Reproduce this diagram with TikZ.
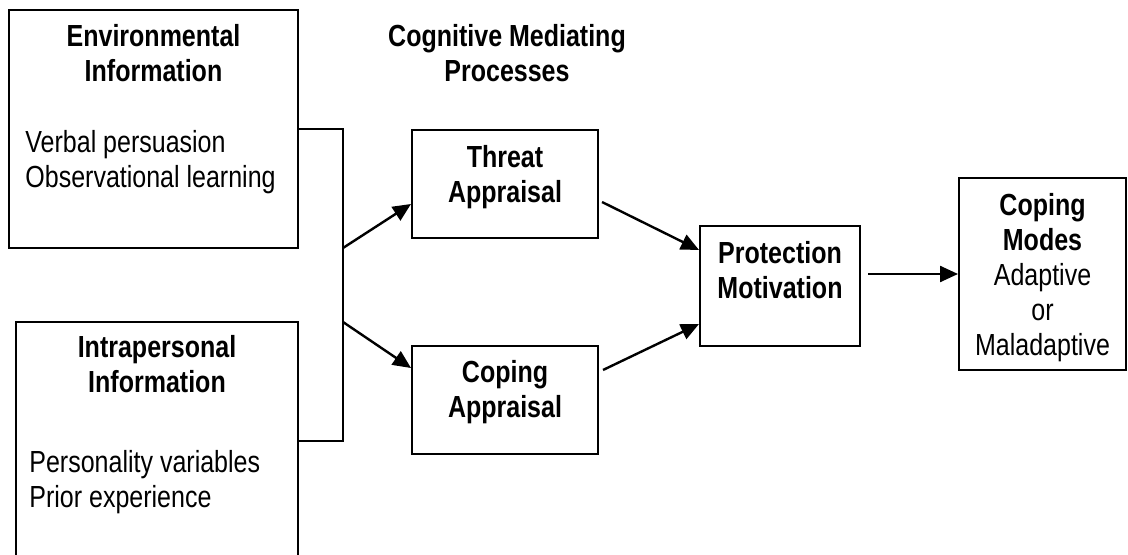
\documentclass[tikz,border=0pt]{standalone}
\usepackage{fontspec}
\setmainfont{Liberation Sans}[FakeStretch=0.82]
\usetikzlibrary{positioning,arrows.meta}
\newcommand\figsize{\fontsize{15.25pt}{17.5pt}\selectfont}
\tikzset{
  box/.style={draw,line width=1pt,inner sep=0pt},
  head/.style={font=\figsize\bfseries,align=center,inner sep=0pt},
  body/.style={font=\figsize,align=left,inner sep=0pt},
  link/.style={line width=1.2pt,-{Triangle[length=9pt,width=8pt]}}
}
\begin{document}
\begin{tikzpicture}[x=0.5pt,y=-0.5pt]
    \useasboundingbox (0,0) rectangle (1128,555);
    \clip (0,0) rectangle (1128,555);
    % input boxes
    \node[box,minimum width=144.5pt,minimum height=119pt] (env) at (153.5,129) {};
    \node[head,below=7.5pt of env.north] (envhead) {Environmental\\Information};
    \node[body,below right=60.5pt and 8.5pt of env.north west] (envbody) {Verbal persuasion\\Observational learning};
    \node[box,minimum width=141pt,minimum height=119pt] (intra) at (157,441) {};
    \node[head,below=7pt of intra.north] (intrahead) {Intrapersonal\\Information};
    \node[body,below right=64.5pt and 7pt of intra.north west] (intrabody) {Personality variables\\Prior experience};
    % mediating processes
    \node[head,anchor=north] (title) at (507,24) {Cognitive Mediating\\Processes};
    \node[box,minimum width=93pt,minimum height=54pt] (threat) at (505,184) {};
    \node[head,below=8pt of threat.north] (threathead) {Threat\\Appraisal};
    \node[box,minimum width=93pt,minimum height=54pt] (copapp) at (505,400) {};
    \node[head,below=7.5pt of copapp.north] (copapphead) {Coping\\Appraisal};
    \node[box,minimum width=80pt,minimum height=60pt] (prot) at (780,286) {};
    \node[head,below=8pt of prot.north] (prothead) {Protection\\Motivation};
    \node[box,minimum width=83.5pt,minimum height=96pt] (modes) at (1042.5,274) {};
    \node[head,below=8pt of modes.north] (modeshead) {Coping\\Modes\\\mdseries Adaptive\\\mdseries or\\\mdseries Maladaptive};
    % connectors
    \coordinate (jtop) at (343,248);
    \coordinate (jbot) at (343,322);
    \draw[line width=1pt] (env.east) -| (jtop) -- (jbot) |- (intra.east);
    \draw[link] (jtop) -- ([yshift=-10pt]threat.west);
    \draw[link] (jbot) -- ([yshift=16pt]copapp.west);
    \draw[link] ([shift={(1.5pt,-9pt)}]threat.east) -- ([yshift=18pt]prot.west);
    \draw[link] ([shift={(2pt,15pt)}]copapp.east) -- ([yshift=-19pt]prot.west);
    \draw[link] ([shift={(3.5pt,6pt)}]prot.east) -- (modes.west);
\end{tikzpicture}
\end{document}
